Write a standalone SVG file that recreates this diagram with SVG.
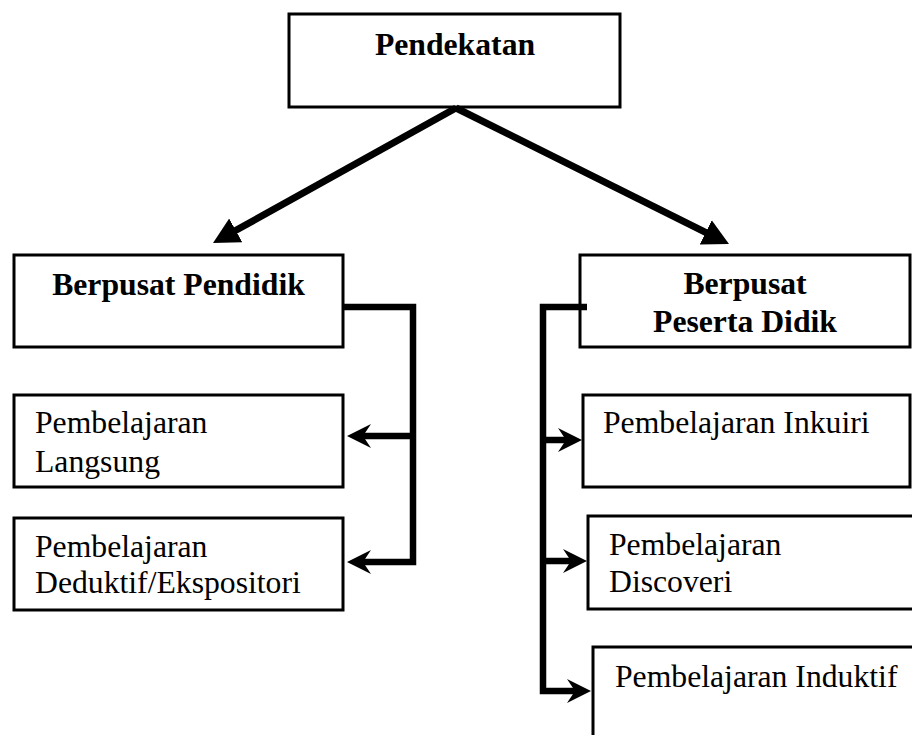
<svg xmlns="http://www.w3.org/2000/svg" width="912" height="735" viewBox="0 0 912 735">
<style>
.box{fill:#fff;stroke:#000;stroke-width:3}
.t{font-family:"Liberation Serif","Times New Roman",serif;font-size:31.7px;fill:#000}
.b{font-weight:bold}
.c{fill:none;stroke:#000;stroke-width:6.5;stroke-linejoin:miter;stroke-linecap:butt}
.d{fill:none;stroke:#000;stroke-width:7;stroke-linecap:butt}
</style>
<defs>
<marker id="tri" markerUnits="userSpaceOnUse" viewBox="0 -15 30 30" refX="6" refY="0" markerWidth="30" markerHeight="30" orient="auto">
<path d="M0,-13.5 L26,0 L0,13.5 z" fill="#000"/>
</marker>
<marker id="barb" markerUnits="userSpaceOnUse" viewBox="0 -13 26 26" refX="13" refY="0" markerWidth="26" markerHeight="26" orient="auto">
<path d="M0,-12 L24,0 L0,12 L8,0 z" fill="#000"/>
</marker>
</defs>
<g id="n-pendekatan">
<rect class="box" x="289" y="14" width="331" height="93"/>
<text class="t b" x="455" y="55" text-anchor="middle">Pendekatan</text>
</g>
<g id="n-pendidik">
<rect class="box" x="14" y="255" width="329" height="92"/>
<text class="t b" x="178.5" y="295" text-anchor="middle">Berpusat Pendidik</text>
</g>
<g id="n-langsung">
<rect class="box" x="14" y="395" width="329" height="92"/>
<text class="t" x="35" y="433">Pembelajaran</text>
<text class="t" x="35" y="472">Langsung</text>
</g>
<g id="n-deduktif">
<rect class="box" x="14" y="518" width="329" height="92"/>
<text class="t" x="35" y="557">Pembelajaran</text>
<text class="t" x="35" y="593">Deduktif/Ekspositori</text>
</g>
<g id="n-peserta">
<rect class="box" x="580" y="255" width="330" height="92"/>
<text class="t b" x="745" y="294" text-anchor="middle">Berpusat</text>
<text class="t b" x="745" y="332" text-anchor="middle">Peserta Didik</text>
</g>
<g id="n-inkuiri">
<rect class="box" x="583" y="395" width="327" height="92"/>
<text class="t" x="603" y="433">Pembelajaran Inkuiri</text>
</g>
<g id="n-discoveri">
<rect class="box" x="588" y="516" width="340" height="93"/>
<text class="t" x="609" y="555">Pembelajaran</text>
<text class="t" x="609" y="592">Discoveri</text>
</g>
<g id="n-induktif">
<rect class="box" x="593" y="647" width="340" height="200"/>
<text class="t" x="615" y="687">Pembelajaran Induktif</text>
</g>
<g id="connectors">
<path class="d" d="M456,108 L230.5,233.3" marker-end="url(#tri)"/>
<path class="d" d="M456,108 L711.1,235.1" marker-end="url(#tri)"/>
<path class="c" d="M344,307 H413 V562 H358" marker-end="url(#barb)"/>
<path class="c" d="M413,436 H358" marker-end="url(#barb)"/>
<path class="c" d="M587,307 H543 V691 H580" marker-end="url(#barb)"/>
<path class="c" d="M543,440 H571" marker-end="url(#barb)"/>
<path class="c" d="M543,561 H576" marker-end="url(#barb)"/>
</g>
</svg>
